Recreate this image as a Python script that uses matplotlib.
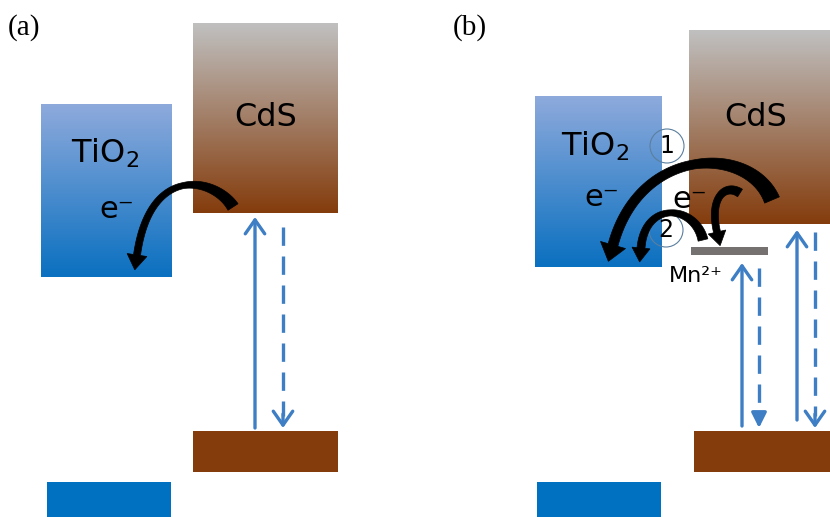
import numpy as np
import matplotlib.pyplot as plt
from matplotlib.colors import LinearSegmentedColormap
from matplotlib.patches import Rectangle, Circle, Polygon

# band edges, figure pixel units: [x0, x1, top, bottom]
tio2_cb = [[41, 171, 104, 277], [535, 662, 96, 267]]
tio2_vb = [[47, 171, 482, 530], [537, 661, 482, 530]]
cds_cb = [[193, 338, 23, 213], [689, 840, 30, 224]]
cds_vb = [[193, 338, 431, 472], [694, 840, 431, 472]]
mn_level = [691, 768, 247, 255]

# vertical transitions: x, tail y, tip y
up_arrows = [[255, 428, 217], [742, 426, 263], [797, 420, 230]]
down_arrows = [[283, 227, 428], [759, 268, 428], [815, 232, 428]]
down_heads = ["open", "filled", "open"]

# electron transfer arcs: cubic control points, widths (start, mid, end), head width, head length
arcs = [
    ([(233, 207), (215, 178), (150, 163), (137, 255)], (12, 6, 7), 20, 15),
    ([(772, 200), (750, 145), (640, 145), (613, 245)], (16, 9, 10), 26, 17),
    ([(740, 193), (725, 183), (709, 198), (717, 232)], (9, 7, 7), 18, 14),
    ([(703, 240), (695, 205), (645, 200), (641, 248)], (10, 6, 8), 18, 14),
]

BLUE_TOP, BLUE_BOT = "#8eaadc", "#0a70c0"
GRAY_TOP, BROWN_BOT = "#c0c0c0", "#843c0c"
ARROW_BLUE = "#3d7ec4"

blue_cmap = LinearSegmentedColormap.from_list("tio2", [BLUE_TOP, BLUE_BOT])
cds_cmap = LinearSegmentedColormap.from_list("cds", [GRAY_TOP, BROWN_BOT])


def gradient_box(ax, box, cmap):
    x0, x1, top, bot = box
    grad = np.linspace(0, 1, 256).reshape(-1, 1)
    ax.imshow(grad, extent=(x0, x1, bot, top), cmap=cmap, aspect="auto",
              interpolation="bilinear", zorder=1)


def flat_box(ax, box, color):
    x0, x1, top, bot = box
    ax.add_patch(Rectangle((x0, top), x1 - x0, bot - top, facecolor=color,
                           edgecolor="none", zorder=1))


def tapered_arrow(ax, ctrl, widths, head_w, head_len, color="black"):
    p = np.array(ctrl, dtype=float)
    t = np.linspace(0, 1, 80)[:, None]
    pts = ((1 - t) ** 3 * p[0] + 3 * (1 - t) ** 2 * t * p[1]
           + 3 * (1 - t) * t ** 2 * p[2] + t ** 3 * p[3])
    tang = np.gradient(pts, axis=0)
    tang /= np.linalg.norm(tang, axis=1)[:, None]
    norm = np.column_stack([-tang[:, 1], tang[:, 0]])
    w = np.interp(t[:, 0], [0, 0.5, 1], widths)[:, None]
    left = pts + norm * w / 2
    right = pts - norm * w / 2
    base, d, n = pts[-1], tang[-1], norm[-1]
    tip = base + d * head_len
    wing_l = base + n * head_w / 2
    wing_r = base - n * head_w / 2
    poly = np.vstack([left, wing_l, tip, wing_r, right[::-1]])
    ax.add_patch(Polygon(poly, closed=True, facecolor=color,
                         edgecolor=color, lw=0.5, zorder=4))


fig = plt.figure(figsize=(8.3, 5.17), dpi=100)
ax = fig.add_axes([0, 0, 1, 1])

for box in tio2_cb:
    gradient_box(ax, box, blue_cmap)
for box in cds_cb:
    gradient_box(ax, box, cds_cmap)
for box in tio2_vb:
    flat_box(ax, box, "#0070c0")
for box in cds_vb:
    flat_box(ax, box, BROWN_BOT)
flat_box(ax, mn_level, "#767171")

lw = 2.4
open_head = "->,head_length=1.0,head_width=0.7"
for x, y0, y1 in up_arrows:
    ax.annotate("", xy=(x, y1), xytext=(x, y0),
                arrowprops=dict(arrowstyle=open_head, lw=lw, color=ARROW_BLUE,
                                shrinkA=0, shrinkB=0),
                zorder=3)
for (x, y0, y1), head in zip(down_arrows, down_heads):
    ax.plot([x, x], [y0, y1 - 12], color=ARROW_BLUE, lw=lw,
            linestyle=(0, (5.5, 3.2)), solid_capstyle="butt", zorder=3)
    style = open_head if head == "open" else "-|>,head_length=0.9,head_width=0.45"
    ax.annotate("", xy=(x, y1), xytext=(x, y1 - 14),
                arrowprops=dict(arrowstyle=style, lw=lw, color=ARROW_BLUE,
                                shrinkA=0, shrinkB=0),
                zorder=3)

# numbered transfer paths
for (cx, cy), label in zip([(667, 146), (666, 230)], ["1", "2"]):
    ax.add_patch(Circle((cx, cy), 17, facecolor="none", edgecolor="#5b7f9e",
                        lw=0.8, zorder=2))
    ax.text(cx, cy, label, fontsize=17, ha="center", va="center", zorder=5)

for ctrl, widths, hw, hl in arcs:
    tapered_arrow(ax, ctrl, widths, hw, hl)

font = "DejaVu Sans"
ax.text(105, 153, "TiO$_2$", fontsize=23, family=font, ha="center", va="center", zorder=5)
ax.text(595, 146, "TiO$_2$", fontsize=23, family=font, ha="center", va="center", zorder=5)
ax.text(266, 118, "CdS", fontsize=23, family=font, ha="center", va="center", zorder=5)
ax.text(756, 118, "CdS", fontsize=23, family=font, ha="center", va="center", zorder=5)
for x, y in [(117, 210), (602, 197), (690, 199)]:
    ax.text(x, y, "e⁻", fontsize=22, family=font, ha="center", va="center", zorder=5)
ax.text(696, 276, "Mn²⁺", fontsize=16, family=font, ha="center", va="center", zorder=5)

ax.text(8, 28, "(a)", fontsize=21, family="Liberation Serif", ha="left", va="center")
ax.text(453, 28, "(b)", fontsize=21, family="Liberation Serif", ha="left", va="center")

ax.set_xlim(0, 830)
ax.set_ylim(517, 0)
ax.axis("off")

fig.savefig("out.png", dpi=100)
